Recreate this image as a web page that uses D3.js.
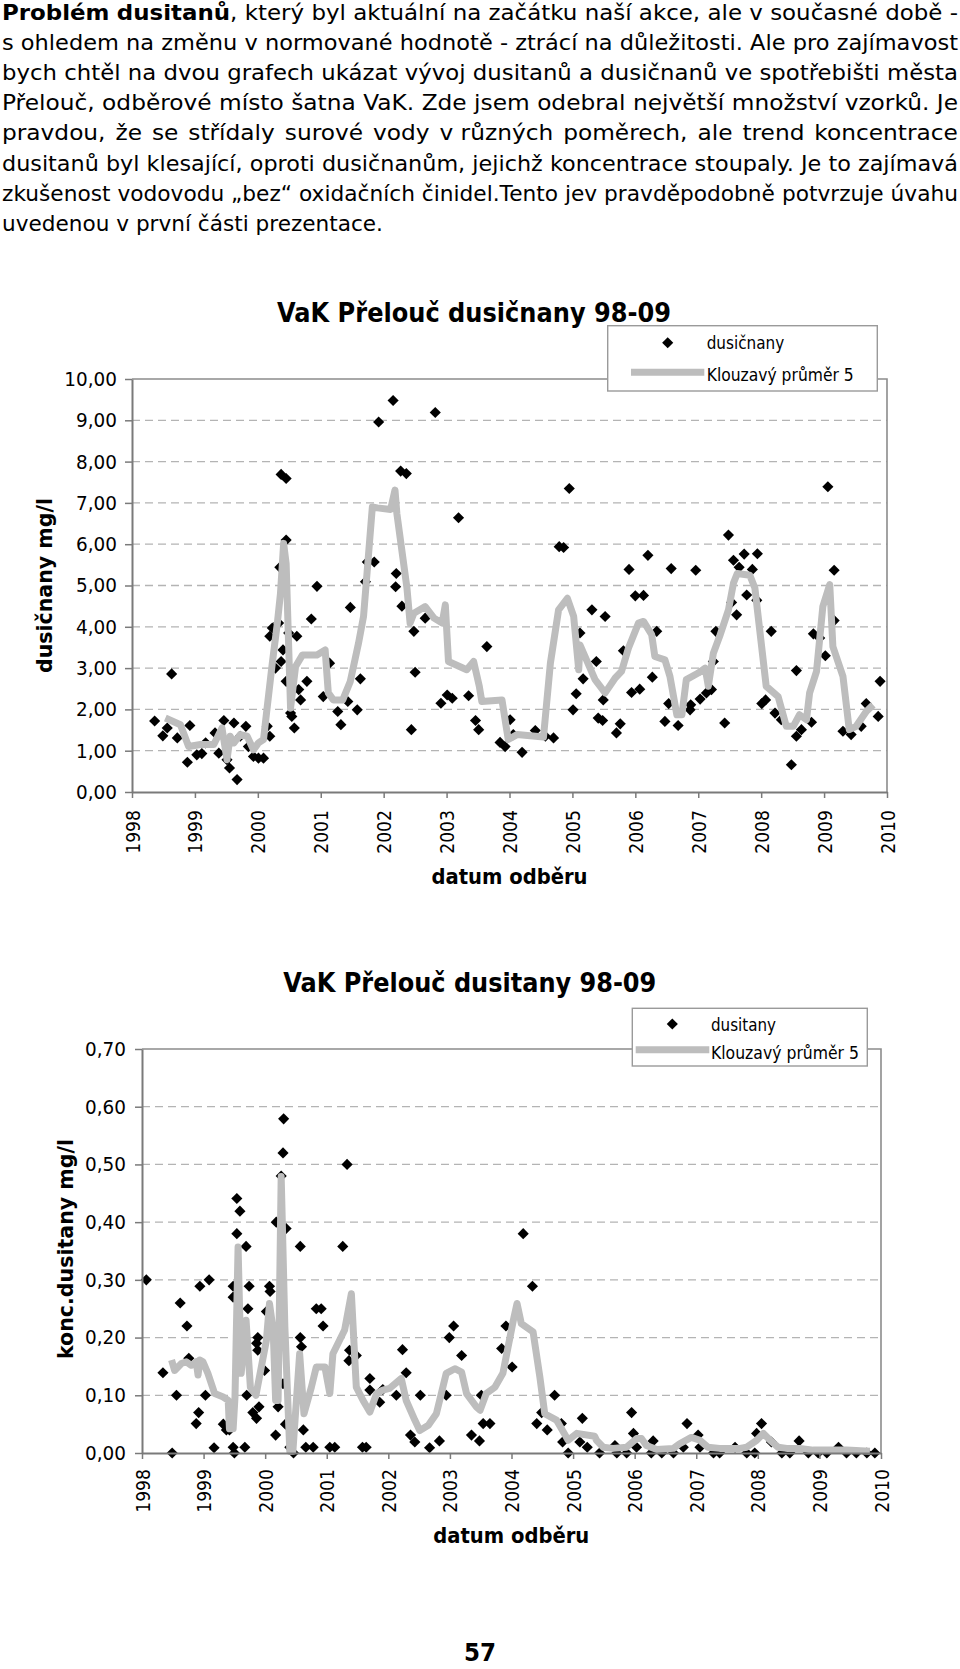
<!DOCTYPE html>
<html><head><meta charset="utf-8">
<script src="https://cdn.jsdelivr.net/npm/d3@7"></script>
<style>body{margin:0;background:#fff}svg{display:block}</style>
</head><body>
<svg id="page" width="960" height="1669"></svg>
<script>
// ---------- DATA ----------
const paragraphLines = [
  "**Problém dusitanů**, který byl aktuální na začátku naší akce, ale v současné době -",
  "s\u00a0ohledem na změnu v normované hodnotě - ztrácí na důležitosti. Ale pro zajímavost",
  "bych chtěl na dvou grafech ukázat vývoj dusitanů a dusičnanů ve spotřebišti města",
  "Přelouč, odběrové místo šatna VaK. Zde jsem odebral největší množství vzorků. Je",
  "pravdou, že se střídaly surové vody v\u00a0různých poměrech, ale trend koncentrace",
  "dusitanů byl klesající, oproti dusičnanům, jejichž koncentrace stoupaly. Je to zajímavá",
  "zkušenost vodovodu „bez“ oxidačních činidel.Tento jev pravděpodobně potvrzuje úvahu",
  "uvedenou v první části prezentace."
];
const pageNumber = "57";

const yearTicks = [1998,1999,2000,2001,2002,2003,2004,2005,2006,2007,2008,2009,2010];
const nitrateTicks = [0,1,2,3,4,5,6,7,8,9,10];
const nitriteTicks = [0,0.1,0.2,0.3,0.4,0.5,0.6,0.7];

const nitrateTitle = "VaK Přelouč dusičnany 98-09";
const nitriteTitle = "VaK Přelouč dusitany 98-09";
const nitrateYTitle = "dusičnany mg/l";
const nitriteYTitle = "konc.dusitany mg/l";
const xTitle = "datum odběru";
const nitrateLegend = ["dusičnany", "Klouzavý průměr 5"];
const nitriteLegend = ["dusitany", "Klouzavý průměr 5"];

// dusičnany [year, mg/l]
const nitratePoints = [
[1998.36,1.72],[1998.49,1.36],[1998.56,1.55],[1998.63,2.86],[1998.72,1.31],[1998.88,0.72],[1998.92,1.61],
[1999.03,0.90],[1999.11,0.93],[1999.17,1.19],[1999.32,1.43],[1999.38,0.94],[1999.46,1.73],[1999.51,0.78],
[1999.55,0.58],[1999.62,1.67],[1999.67,0.30],[1999.72,1.35],[1999.81,1.59],[1999.85,1.10],[1999.93,0.86],
[2000.01,0.82],[2000.09,0.82],[2000.15,1.59],[2000.19,1.35],[2000.19,3.77],[2000.23,3.97],[2000.28,3.00],
[2000.33,4.09],[2000.35,5.44],[2000.37,3.16],[2000.37,7.69],[2000.40,3.44],[2000.45,7.59],[2000.45,6.10],
[2000.45,2.68],[2000.49,3.85],[2000.52,1.91],[2000.54,1.83],[2000.58,1.55],[2000.62,3.77],[2000.65,2.48],
[2000.68,2.23],[2000.78,2.68],[2000.85,4.19],[2000.94,4.98],[2001.04,2.31],[2001.14,3.12],[2001.27,1.95],
[2001.32,1.63],[2001.43,2.19],[2001.47,4.47],[2001.58,1.99],[2001.63,2.74],[2001.71,5.09],[2001.74,5.57],
[2001.85,5.57],[2001.92,8.96],[2002.15,9.48],[2002.19,4.97],[2002.20,5.29],[2002.27,7.77],[2002.29,4.50],
[2002.36,7.71],[2002.44,1.51],[2002.48,3.89],[2002.50,2.90],[2002.66,4.21],[2002.82,9.19],[2002.91,2.15],
[2003.01,2.35],[2003.09,2.27],[2003.19,6.64],[2003.35,2.33],[2003.46,1.73],[2003.51,1.51],[2003.64,3.52],
[2003.85,1.20],[2003.93,1.10],[2004.01,1.75],[2004.06,1.39],[2004.20,0.96],[2004.41,1.49],[2004.57,1.35],
[2004.70,1.31],[2004.79,5.94],[2004.86,5.92],[2004.95,7.35],[2005.01,1.99],[2005.06,2.38],[2005.12,3.85],
[2005.17,2.74],[2005.31,4.41],[2005.38,3.16],[2005.41,1.79],[2005.48,1.73],[2005.49,2.23],[2005.52,4.25],
[2005.70,1.43],[2005.76,1.65],[2005.81,3.42],[2005.90,5.39],[2005.94,2.41],[2006.00,4.75],[2006.07,2.49],
[2006.13,4.76],[2006.20,5.73],[2006.27,2.78],[2006.34,3.89],[2006.47,1.71],[2006.53,2.14],[2006.57,5.41],
[2006.68,1.61],[2006.87,1.99],[2006.88,2.11],[2006.96,5.37],[2007.03,2.25],[2007.13,2.40],[2007.21,2.48],
[2007.24,3.16],[2007.28,3.89],[2007.42,1.67],[2007.48,6.22],[2007.53,4.59],[2007.56,5.61],[2007.61,4.29],
[2007.65,5.44],[2007.73,5.76],[2007.77,4.77],[2007.86,5.39],[2007.93,4.64],[2007.94,5.77],[2008.01,2.14],
[2008.07,2.23],[2008.16,3.89],[2008.22,1.91],[2008.32,1.75],[2008.48,0.66],[2008.56,2.94],[2008.56,1.35],
[2008.64,1.51],[2008.80,1.69],[2008.83,3.83],[2008.93,3.73],[2009.02,3.30],[2009.06,7.39],[2009.16,5.37],
[2009.16,4.15],[2009.30,1.47],[2009.43,1.39],[2009.59,1.59],[2009.67,2.14],[2009.86,1.83],[2009.89,2.68]
];
// Klouzavý průměr 5 (dusičnany)
const nitrateAvg = [
[1998.53,1.79],[1998.77,1.63],[1998.90,1.10],[1999.09,1.15],[1999.30,1.15],[1999.43,1.55],[1999.51,0.78],
[1999.56,1.35],[1999.62,1.19],[1999.72,1.39],[1999.83,1.35],[1999.93,1.02],[2000.01,1.19],[2000.09,1.27],
[2000.15,2.07],[2000.23,3.12],[2000.31,4.09],[2000.36,4.81],[2000.41,6.02],[2000.45,5.53],[2000.52,2.03],
[2000.60,3.04],[2000.71,3.32],[2000.94,3.32],[2001.07,3.44],[2001.12,2.40],[2001.20,2.23],[2001.35,2.23],
[2001.47,2.68],[2001.60,3.60],[2001.68,4.25],[2001.82,6.90],[2001.90,6.88],[2002.11,6.84],[2002.18,7.31],
[2002.21,6.74],[2002.37,4.94],[2002.42,4.09],[2002.48,4.33],[2002.66,4.49],[2002.80,4.21],[2002.93,4.09],
[2002.98,4.53],[2003.03,3.16],[2003.32,2.96],[2003.43,3.16],[2003.52,2.56],[2003.56,2.19],[2003.88,2.23],
[2003.98,1.27],[2004.12,1.39],[2004.54,1.33],[2004.65,3.12],[2004.78,4.41],[2004.92,4.69],[2005.02,4.25],
[2005.10,2.96],[2005.12,3.56],[2005.36,2.72],[2005.52,2.40],[2005.68,2.76],[2005.78,2.92],[2005.89,3.48],
[2006.05,4.09],[2006.13,4.13],[2006.26,3.81],[2006.31,3.28],[2006.47,3.20],[2006.55,2.80],[2006.66,1.87],
[2006.74,1.87],[2006.81,2.72],[2007.00,2.88],[2007.11,3.00],[2007.16,2.56],[2007.24,3.36],[2007.34,3.77],
[2007.48,4.41],[2007.56,5.06],[2007.62,5.29],[2007.82,5.25],[2007.90,4.94],[2008.08,2.56],[2008.27,2.31],
[2008.40,1.59],[2008.51,1.59],[2008.61,1.87],[2008.72,1.75],[2008.77,2.40],[2008.88,2.92],[2008.98,4.49],
[2009.09,5.02],[2009.14,3.52],[2009.30,2.80],[2009.40,1.51],[2009.51,1.59],[2009.67,1.95],[2009.78,2.11]
];
// dusitany [year, mg/l]
const nitritePoints = [
[1998.07,0.300],[1998.34,0.139],[1998.49,0.000],[1998.56,0.100],[1998.62,0.260],[1998.73,0.220],[1998.76,0.164],
[1998.88,0.051],[1998.92,0.070],[1998.94,0.289],[1999.03,0.100],[1999.09,0.300],[1999.17,0.009],[1999.32,0.050],
[1999.37,0.040],[1999.42,0.040],[1999.48,0.010],[1999.48,0.289],[1999.50,0.000],[1999.48,0.270],[1999.54,0.441],
[1999.54,0.380],[1999.59,0.419],[1999.67,0.010],[1999.69,0.358],[1999.70,0.100],[1999.72,0.250],[1999.74,0.289],
[1999.80,0.070],[1999.86,0.060],[1999.86,0.190],[1999.88,0.200],[1999.88,0.178],[1999.90,0.080],[1999.99,0.143],
[2000.02,0.245],[2000.07,0.289],[2000.08,0.280],[2000.17,0.031],[2000.18,0.400],[2000.21,0.080],[2000.26,0.480],
[2000.29,0.520],[2000.29,0.120],[2000.30,0.579],[2000.33,0.050],[2000.34,0.389],[2000.40,0.010],[2000.46,0.000],
[2000.57,0.358],[2000.57,0.200],[2000.59,0.184],[2000.62,0.040],[2000.66,0.010],[2000.78,0.010],[2000.83,0.250],
[2000.91,0.250],[2000.94,0.220],[2001.05,0.010],[2001.13,0.010],[2001.26,0.358],[2001.33,0.500],[2001.36,0.160],
[2001.37,0.178],[2001.48,0.169],[2001.58,0.010],[2001.64,0.010],[2001.70,0.129],[2001.70,0.109],[2001.86,0.088],
[2001.91,0.110],[2002.13,0.100],[2002.23,0.179],[2002.29,0.139],[2002.36,0.031],[2002.43,0.019],[2002.52,0.100],
[2002.67,0.009],[2002.83,0.021],[2002.94,0.100],[2002.99,0.200],[2003.06,0.220],[2003.19,0.169],[2003.35,0.031],
[2003.48,0.021],[2003.51,0.100],[2003.54,0.051],[2003.65,0.051],[2003.84,0.181],[2003.91,0.220],[2004.01,0.149],
[2004.19,0.380],[2004.34,0.289],[2004.41,0.051],[2004.49,0.070],[2004.58,0.040],[2004.70,0.100],[2004.81,0.051],
[2004.83,0.019],[2004.92,0.000],[2005.11,0.019],[2005.15,0.060],[2005.23,0.010],[2005.43,0.000],[2005.68,0.013],
[2005.71,0.000],[2005.87,0.000],[2005.95,0.070],[2005.98,0.034],[2006.03,0.010],[2006.27,0.000],[2006.30,0.021],
[2006.44,0.000],[2006.63,0.000],[2006.79,0.010],[2006.85,0.051],[2007.03,0.031],[2007.06,0.010],[2007.28,0.000],
[2007.38,0.000],[2007.63,0.010],[2007.82,0.000],[2007.95,0.000],[2007.98,0.034],[2008.06,0.051],[2008.22,0.019],
[2008.39,0.000],[2008.52,0.000],[2008.67,0.021],[2008.82,0.000],[2008.98,0.000],[2009.12,0.000],[2009.31,0.010],
[2009.44,0.000],[2009.60,0.000],[2009.77,0.000],[2009.90,0.000]
];
// Klouzavý průměr 5 (dusitany)
const nitriteAvg = [
[1998.48,0.161],[1998.53,0.143],[1998.64,0.155],[1998.72,0.158],[1998.80,0.152],[1998.88,0.158],[1998.91,0.135],
[1998.94,0.161],[1998.99,0.158],[1999.07,0.138],[1999.18,0.103],[1999.32,0.097],[1999.40,0.091],[1999.42,0.042],
[1999.48,0.042],[1999.51,0.097],[1999.56,0.357],[1999.61,0.138],[1999.69,0.230],[1999.76,0.114],[1999.85,0.100],
[2000.02,0.195],[2000.07,0.259],[2000.13,0.213],[2000.17,0.091],[2000.21,0.091],[2000.26,0.479],[2000.32,0.218],
[2000.40,0.003],[2000.45,0.003],[2000.56,0.172],[2000.63,0.068],[2000.75,0.114],[2000.83,0.149],[2000.97,0.149],
[2001.05,0.103],[2001.10,0.172],[2001.29,0.213],[2001.40,0.276],[2001.48,0.114],[2001.59,0.091],[2001.70,0.071],
[2001.81,0.103],[2001.91,0.109],[2002.02,0.112],[2002.21,0.129],[2002.29,0.091],[2002.43,0.057],[2002.51,0.039],
[2002.65,0.048],[2002.78,0.068],[2002.94,0.138],[2003.08,0.146],[2003.19,0.140],[2003.27,0.103],[2003.43,0.080],
[2003.49,0.074],[2003.59,0.103],[2003.73,0.114],[2003.86,0.138],[2004.03,0.230],[2004.09,0.259],[2004.16,0.224],
[2004.35,0.210],[2004.46,0.132],[2004.54,0.068],[2004.73,0.057],[2004.92,0.022],[2005.06,0.034],[2005.35,0.029],
[2005.38,0.022],[2005.49,0.010],[2005.65,0.008],[2005.87,0.010],[2006.03,0.025],[2006.11,0.025],[2006.19,0.013],
[2006.36,0.006],[2006.63,0.008],[2006.73,0.016],[2006.92,0.027],[2007.06,0.022],[2007.19,0.010],[2007.38,0.008],
[2007.71,0.008],[2007.82,0.010],[2007.98,0.022],[2008.09,0.034],[2008.20,0.022],[2008.33,0.010],[2008.47,0.008],
[2008.68,0.008],[2008.90,0.005],[2009.22,0.005],[2009.44,0.005],[2009.82,0.003]
];

// ---------- RENDER ----------
const FONT = "'DejaVu Sans', Verdana, sans-serif";
const svg = d3.select("#page");
const fmt2 = d3.formatLocale({decimal: ",", thousands: "\u00a0", grouping: [3], currency: ["", ""]}).format(".2f");

function condense(sel, f) {
  sel.each(function () {
    const w = this.getComputedTextLength();
    d3.select(this).attr("textLength", w * f).attr("lengthAdjust", "spacingAndGlyphs");
  });
}
function fitWidth(sel, w) {
  sel.attr("textLength", w).attr("lengthAdjust", "spacingAndGlyphs");
}

// Paragraph (justified)
(function drawParagraph() {
  const fs = 21, x0 = 2, x1 = 958, base0 = 20, lh = 30.1;
  const g = svg.append("g").attr("font-family", FONT).attr("font-size", fs).attr("fill", "#000");
  let bold = false;
  const lines = paragraphLines.map(line => line.split(" ").map(tok => {
    const segs = tok.split("**");
    const parts = [];
    segs.forEach((s, i) => {
      if (i > 0) bold = !bold;
      if (s.length) parts.push({s, b: bold});
    });
    return parts;
  }));
  const meas = g.append("text").attr("x", -1000).attr("y", -1000);
  function width(parts) {
    meas.selectAll("tspan").remove();
    parts.forEach(p => meas.append("tspan").attr("font-weight", p.b ? "bold" : null).text(p.s));
    return meas.node().getComputedTextLength();
  }
  const widths = lines.map(l => l.map(width));
  meas.remove();
  const space = 0.318 * fs;
  const natOf = i => d3.sum(widths[i]) + space * (widths[i].length - 1);
  const sCap = (x1 - x0) / natOf(3);          // line 4 is naturally spaced in the source
  const last = widths.length - 1;
  lines.forEach((l, i) => {
    const w = widths[i];
    const isLast = i === last;
    const s = isLast ? 381 / natOf(last) : Math.min(sCap, (x1 - x0) / natOf(i));
    const gap = isLast ? space * s : (x1 - x0 - s * d3.sum(w)) / (l.length - 1);
    let x = x0;
    l.forEach((parts, j) => {
      const t = g.append("g").attr("transform", `translate(${x},${base0 + i * lh}) scale(${s},1)`)
        .append("text").attr("x", 0).attr("y", 0);
      parts.forEach(p => t.append("tspan").attr("font-weight", p.b ? "bold" : null).text(p.s));
      x += s * w[j] + gap;
    });
  });
})();

function drawChart(c) {
  const x = d3.scaleLinear().domain([c.xTicks[0], c.xTicks[c.xTicks.length - 1]]).range([c.left, c.right]);
  const y = d3.scaleLinear().domain([0, c.yTicks[c.yTicks.length - 1]]).range([c.bottom, c.top]);
  const g = svg.append("g").attr("font-family", FONT);

  g.append("text").attr("x", c.title.x).attr("y", c.title.y)
    .attr("font-weight", "bold").attr("font-size", 27).text(c.title.text).call(fitWidth, c.title.w);

  // grid
  g.append("g").selectAll("line").data(c.yTicks.slice(1, -1)).join("line")
    .attr("x1", c.left).attr("x2", c.right).attr("y1", d => y(d)).attr("y2", d => y(d))
    .attr("stroke", "#b4b4b4").attr("stroke-width", 1.3).attr("stroke-dasharray", "8,5");
  // frame
  g.append("path").attr("d", `M${c.left},${y(c.yTicks[c.yTicks.length - 1])}H${c.right}V${c.bottom}`)
    .attr("fill", "none").attr("stroke", "#8c8c8c").attr("stroke-width", 1.6);

  // scatter
  g.append("g").selectAll("path").data(c.points).join("path")
    .attr("transform", d => `translate(${x(d[0])},${y(d[1])}) rotate(45)`)
    .attr("d", d3.symbol(d3.symbolSquare, 62)).attr("fill", "#000");
  // moving average
  g.append("path").datum(c.avg)
    .attr("d", d3.line().x(d => x(d[0])).y(d => y(d[1])))
    .attr("fill", "none").attr("stroke", "#bdbdbd").attr("stroke-width", 7)
    .attr("stroke-linejoin", "round");

  // y axis
  const ya = g.append("g").attr("transform", `translate(${c.left},0)`)
    .call(d3.axisLeft(y).tickValues(c.yTicks).tickFormat(fmt2).tickSizeInner(7).tickSizeOuter(0).tickPadding(c.yPad));
  ya.attr("font-family", FONT).attr("font-size", 20).attr("color", "#7a7a7a");
  ya.select(".domain").attr("stroke-width", 2);
  ya.selectAll(".tick line").attr("stroke-width", 1.5);
  ya.selectAll("text").attr("fill", "#000").call(condense, 0.92);

  // x axis
  const xa = g.append("g").attr("transform", `translate(0,${c.bottom})`)
    .call(d3.axisBottom(x).tickValues(c.xTicks).tickFormat(d3.format("d")).tickSizeInner(6).tickSizeOuter(0));
  xa.attr("font-family", FONT).attr("font-size", 20).attr("color", "#7a7a7a");
  xa.select(".domain").attr("stroke-width", 2);
  xa.selectAll(".tick line").attr("stroke-width", 1.5);
  xa.selectAll("text").attr("x", 0).attr("y", 0).attr("dy", "0.35em").attr("text-anchor", "end")
    .attr("transform", `translate(0,${c.xLabelTop - c.bottom}) rotate(-90)`)
    .attr("fill", "#000").call(condense, 0.86);

  // axis titles
  g.append("text").attr("x", c.xTitle.x).attr("y", c.xTitle.y).attr("font-weight", "bold")
    .attr("font-size", 21).text(c.xTitle.text).call(fitWidth, c.xTitle.w);
  g.append("text").attr("transform", `translate(${c.yTitle.x},${c.yTitle.cy}) rotate(-90)`)
    .attr("text-anchor", "middle").attr("font-weight", "bold").attr("font-size", 21)
    .text(c.yTitle.text).call(fitWidth, c.yTitle.w);

  // legend
  const L = c.legend;
  g.append("rect").attr("x", L.x).attr("y", L.y).attr("width", L.w).attr("height", L.h)
    .attr("fill", "#fff").attr("stroke", "#9a9a9a").attr("stroke-width", 1.4);
  g.append("path").attr("transform", `translate(${L.dx},${L.dy}) rotate(45)`)
    .attr("d", d3.symbol(d3.symbolSquare, 62)).attr("fill", "#000");
  g.append("line").attr("x1", L.lx1).attr("x2", L.lx2).attr("y1", L.ly).attr("y2", L.ly)
    .attr("stroke", "#bdbdbd").attr("stroke-width", 7);
  g.append("text").attr("x", L.tx).attr("y", L.t1y).attr("font-size", 17.5).text(c.legendText[0]).call(fitWidth, L.t1w);
  g.append("text").attr("x", L.tx).attr("y", L.t2y).attr("font-size", 17.5).text(c.legendText[1]).call(fitWidth, L.t2w);
}

drawChart({
  left: 132, right: 887, top: 379, bottom: 792, xLabelTop: 810, yPad: 8,
  xTicks: yearTicks, yTicks: nitrateTicks, points: nitratePoints, avg: nitrateAvg,
  title: {text: nitrateTitle, x: 277, y: 321.5, w: 394},
  xTitle: {text: xTitle, x: 431.5, y: 884, w: 156},
  yTitle: {text: nitrateYTitle, x: 52, cy: 585.5, w: 175},
  legendText: nitrateLegend,
  legend: {x: 607.7, y: 325.7, w: 269.6, h: 65.3, dx: 667.7, dy: 342.7,
           lx1: 631, lx2: 704.3, ly: 372.3, tx: 706.7, t1y: 349, t1w: 77.6, t2y: 381, t2w: 147}
});

drawChart({
  left: 142, right: 881, top: 1049, bottom: 1453, xLabelTop: 1469, yPad: 9,
  xTicks: yearTicks, yTicks: nitriteTicks, points: nitritePoints, avg: nitriteAvg,
  title: {text: nitriteTitle, x: 283.3, y: 991.5, w: 373},
  xTitle: {text: xTitle, x: 433.3, y: 1543.3, w: 156},
  yTitle: {text: nitriteYTitle, x: 73, cy: 1249, w: 220},
  legendText: nitriteLegend,
  legend: {x: 632.3, y: 1008.3, w: 235, h: 57.7, dx: 672.3, dy: 1024,
           lx1: 635.7, lx2: 709.3, ly: 1049.7, tx: 711, t1y: 1031, t1w: 65, t2y: 1058.7, t2w: 148}
});

svg.append("text").attr("x", 480).attr("y", 1661).attr("text-anchor", "middle")
  .attr("font-family", FONT).attr("font-weight", "bold").attr("font-size", 25)
  .text(pageNumber).call(fitWidth, 32);
</script>
</body></html>
